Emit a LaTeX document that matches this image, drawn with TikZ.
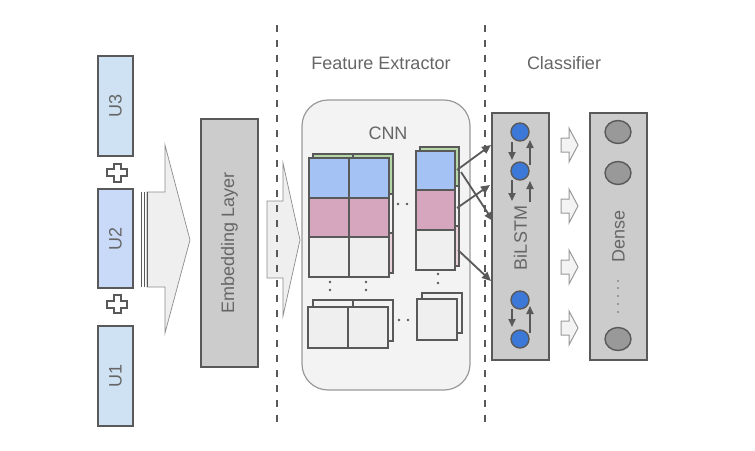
\documentclass[tikz,border=0pt]{standalone}
\usepackage{fontspec}
\setmainfont{Liberation Sans}
\usetikzlibrary{arrows.meta,shapes.geometric}
\definecolor{edge}{HTML}{595959}
\definecolor{txt}{HTML}{666666}
\definecolor{ublue}{HTML}{CFE2F3}
\definecolor{ublueb}{HTML}{C9DAF8}
\definecolor{emb}{HTML}{CCCCCC}
\definecolor{arrfill}{HTML}{EFEFEF}
\definecolor{arredge}{HTML}{8C8C8C}
\definecolor{cnnfill}{HTML}{F3F3F3}
\definecolor{cnnedge}{HTML}{999999}
\definecolor{cblue}{HTML}{A4C2F4}
\definecolor{cpink}{HTML}{D5A6BD}
\definecolor{cgrey}{HTML}{EFEFEF}
\definecolor{cgreen}{HTML}{B6D7A8}
\definecolor{clpink}{HTML}{EAD1DC}
\definecolor{dotblue}{HTML}{3C78D8}
\definecolor{dotgrey}{HTML}{999999}
\begin{document}
\begin{tikzpicture}[x=1pt,y=-1pt,
  font=\fontsize{18}{20}\selectfont,
  box/.style={draw=edge,line width=2pt,inner sep=0pt},
  lbl/.style={text=txt,inner sep=0pt},
  cell/.style={draw=edge,line width=1.8pt},
  fat/.style={draw=arredge,fill=arrfill,line width=0.7pt},
  conn/.style={draw=edge,line width=1.8pt,-{Triangle[length=9pt,width=8pt]}},
  small/.style={draw=edge,line width=1.8pt,-{Triangle[length=8pt,width=7pt]}},
  divider/.style={draw=edge,line width=1.8pt,dash pattern=on 7pt off 8pt},
  dotc/.style={circle,fill=edge,inner sep=0pt,minimum size=2.6pt}]
\useasboundingbox (0,0) rectangle (755,450);

% titles
\node[lbl] (tfe) at (381,63) {Feature Extractor};
\node[lbl] (tcl) at (564,63) {Classifier};

% input utterances
\node[box,fill=ublue,minimum width=35pt,minimum height=100pt] (u3) at (115.5,106) {};
\node[lbl] at (u3) {\rotatebox{90}{U3}};
\node[box,fill=ublueb,minimum width=35pt,minimum height=99pt] (u2) at (115.5,238.5) {};
\node[lbl] at (u2) {\rotatebox{90}{U2}};
\node[box,fill=ublue,minimum width=35pt,minimum height=100pt] (u1) at (115.5,376) {};
\node[lbl] at (u1) {\rotatebox{90}{U1}};

% plus signs
\foreach \cy/\nm in {172.5/p1,304/p2}{
  \draw[draw=edge,fill=white,line width=2pt]
    (113.5,\cy-9) -- (120.5,\cy-9) -- (120.5,\cy-3.5) -- (127,\cy-3.5) -- (127,\cy+3.5)
    -- (120.5,\cy+3.5) -- (120.5,\cy+9) -- (113.5,\cy+9) -- (113.5,\cy+3.5) -- (107,\cy+3.5)
    -- (107,\cy-3.5) -- (113.5,\cy-3.5) -- cycle;
}

% big arrow 1
\draw[fat] (147,192) -- (165,192) -- (165,145) -- (190,240) -- (165,333) -- (165,287) -- (147,287) -- cycle;
\draw[draw=edge,line width=1pt] (141.5,192) -- (141.5,287);
\draw[draw=edge,line width=1pt] (144.5,192) -- (144.5,287);
\draw[draw=edge,line width=1pt] (147,192) -- (147,287);

% embedding layer
\node[box,fill=emb,minimum width=57pt,minimum height=248pt] (emb) at (229.5,243) {};
\node[lbl] at (emb) {\rotatebox{90}{Embedding Layer}};

% big arrow 2
\draw[fat] (267,201) -- (283,201) -- (283,163) -- (300,240) -- (283,316) -- (283,278) -- (267,278) -- cycle;

% CNN container
\node[draw=cnnedge,fill=cnnfill,line width=1.2pt,rounded corners=26pt,minimum width=168pt,minimum height=290pt] (cnn) at (386,245) {};
\node[lbl] (cnnl) at (388,133) {CNN};

% CNN feature maps: columns 1-2 (back layer)
\foreach \x in {313,353}{
  \draw[cell,fill=cgreen] (\x,154) rectangle ++(40,40);
  \draw[cell,fill=cnnfill] (\x,194) rectangle ++(40,39);
  \draw[cell,fill=clpink] (\x,233) rectangle ++(40,40);
}
% front layer
\foreach \x in {309,349}{
  \draw[cell,fill=cblue] (\x,158) rectangle ++(40,40);
  \draw[cell,fill=cpink] (\x,198) rectangle ++(40,39);
  \draw[cell,fill=cgrey] (\x,237) rectangle ++(40,40);
}
% column 3
\draw[cell,fill=cgreen] (420,147) rectangle (459,186);
\draw[cell,fill=cnnfill] (420,186) rectangle (459,226);
\draw[cell,fill=clpink] (420,226) rectangle (459,266);
\draw[cell,fill=cblue] (416,151) rectangle (455,190);
\draw[cell,fill=cpink] (416,190) rectangle (455,230);
\draw[cell,fill=cgrey] (416,230) rectangle (455,270);

% bottom row
\draw[cell,fill=cnnfill] (313,300) rectangle (353,341);
\draw[cell,fill=cnnfill] (353,300) rectangle (393,341);
\draw[cell,fill=cgrey] (308,307) rectangle (348,348);
\draw[cell,fill=cgrey] (348,307) rectangle (388,348);
\draw[cell,fill=cnnfill] (422,293) rectangle (462,333);
\draw[cell,fill=cgrey] (417,299) rectangle (457,340);

% ellipsis dots
\foreach \px/\py in {398/204,407/204,399/320,408/320,330/282,330/290,366/282,366/290,438/274,438/283}{
  \node[dotc] at (\px,\py) {};
}

% connectors from CNN to BiLSTM
\coordinate (s1) at (457,170); \coordinate (t1) at (491,145);
\coordinate (s2) at (461,172); \coordinate (t2) at (493,221);
\coordinate (s3) at (457,208); \coordinate (t3) at (490,185);
\coordinate (s4) at (458,250); \coordinate (t4) at (491,281);

% BiLSTM
\node[box,fill=emb,minimum width=57pt,minimum height=247pt] (bil) at (520.5,236.5) {};
\node[lbl] at (520.5,238) {\rotatebox{90}{BiLSTM}};
\foreach \cy/\nm in {132/b1,171/b2,300/b3,339/b4}{
  \node[circle,draw=edge,fill=dotblue,line width=1.4pt,minimum size=18pt,inner sep=0pt] (\nm) at (520,\cy) {};
}
\coordinate (d1a) at (512,142); \coordinate (d1b) at (512,160);
\coordinate (u1a) at (530,165); \coordinate (u1b) at (530,140);
\coordinate (d2a) at (512,180); \coordinate (d2b) at (512,201);
\coordinate (u2a) at (530,202); \coordinate (u2b) at (530,181);
\coordinate (d3a) at (512,309); \coordinate (d3b) at (512,327);
\coordinate (u3a) at (530,333); \coordinate (u3b) at (530,306);
\draw[small] (d1a) -- (d1b);
\draw[small] (u1a) -- (u1b);
\draw[small] (d2a) -- (d2b);
\draw[small] (u2a) -- (u2b);
\draw[small] (d3a) -- (d3b);
\draw[small] (u3a) -- (u3b);

\draw[conn] (s1) -- (t1);
\draw[conn] (s2) -- (t2);
\draw[conn] (s3) -- (t3);
\draw[conn] (s4) -- (t4);

% hollow arrows BiLSTM -> Dense
\foreach \cy in {145,206,267,328}{
  \draw[draw=cnnedge,fill=cnnfill,line width=1pt]
    (561,\cy-7) -- (569,\cy-7) -- (569,\cy-17) -- (578,\cy) -- (569,\cy+17) -- (569,\cy+7) -- (561,\cy+7) -- cycle;
}

% Dense
\node[box,fill=emb,minimum width=57pt,minimum height=247pt] (dense) at (618.5,236.5) {};
\node[lbl] at (618.5,236) {\rotatebox{90}{Dense}};
\foreach \cy/\nm in {132/e1,173/e2,339/e3}{
  \node[ellipse,draw=edge,fill=dotgrey,line width=1.4pt,minimum width=26pt,minimum height=23pt,inner sep=0pt] (\nm) at (618,\cy) {};
}
\foreach \py in {281,288,296,304,312}{
  \node[dotc,minimum size=1.8pt,fill=txt] at (618,\py) {};
}

% dashed dividers
\coordinate (l1t) at (277,25); \coordinate (l1b) at (277,425);
\coordinate (l2t) at (485,25); \coordinate (l2b) at (485,425);
\draw[divider] (l1t) -- (l1b);
\draw[divider] (l2t) -- (l2b);
\end{tikzpicture}
\end{document}
